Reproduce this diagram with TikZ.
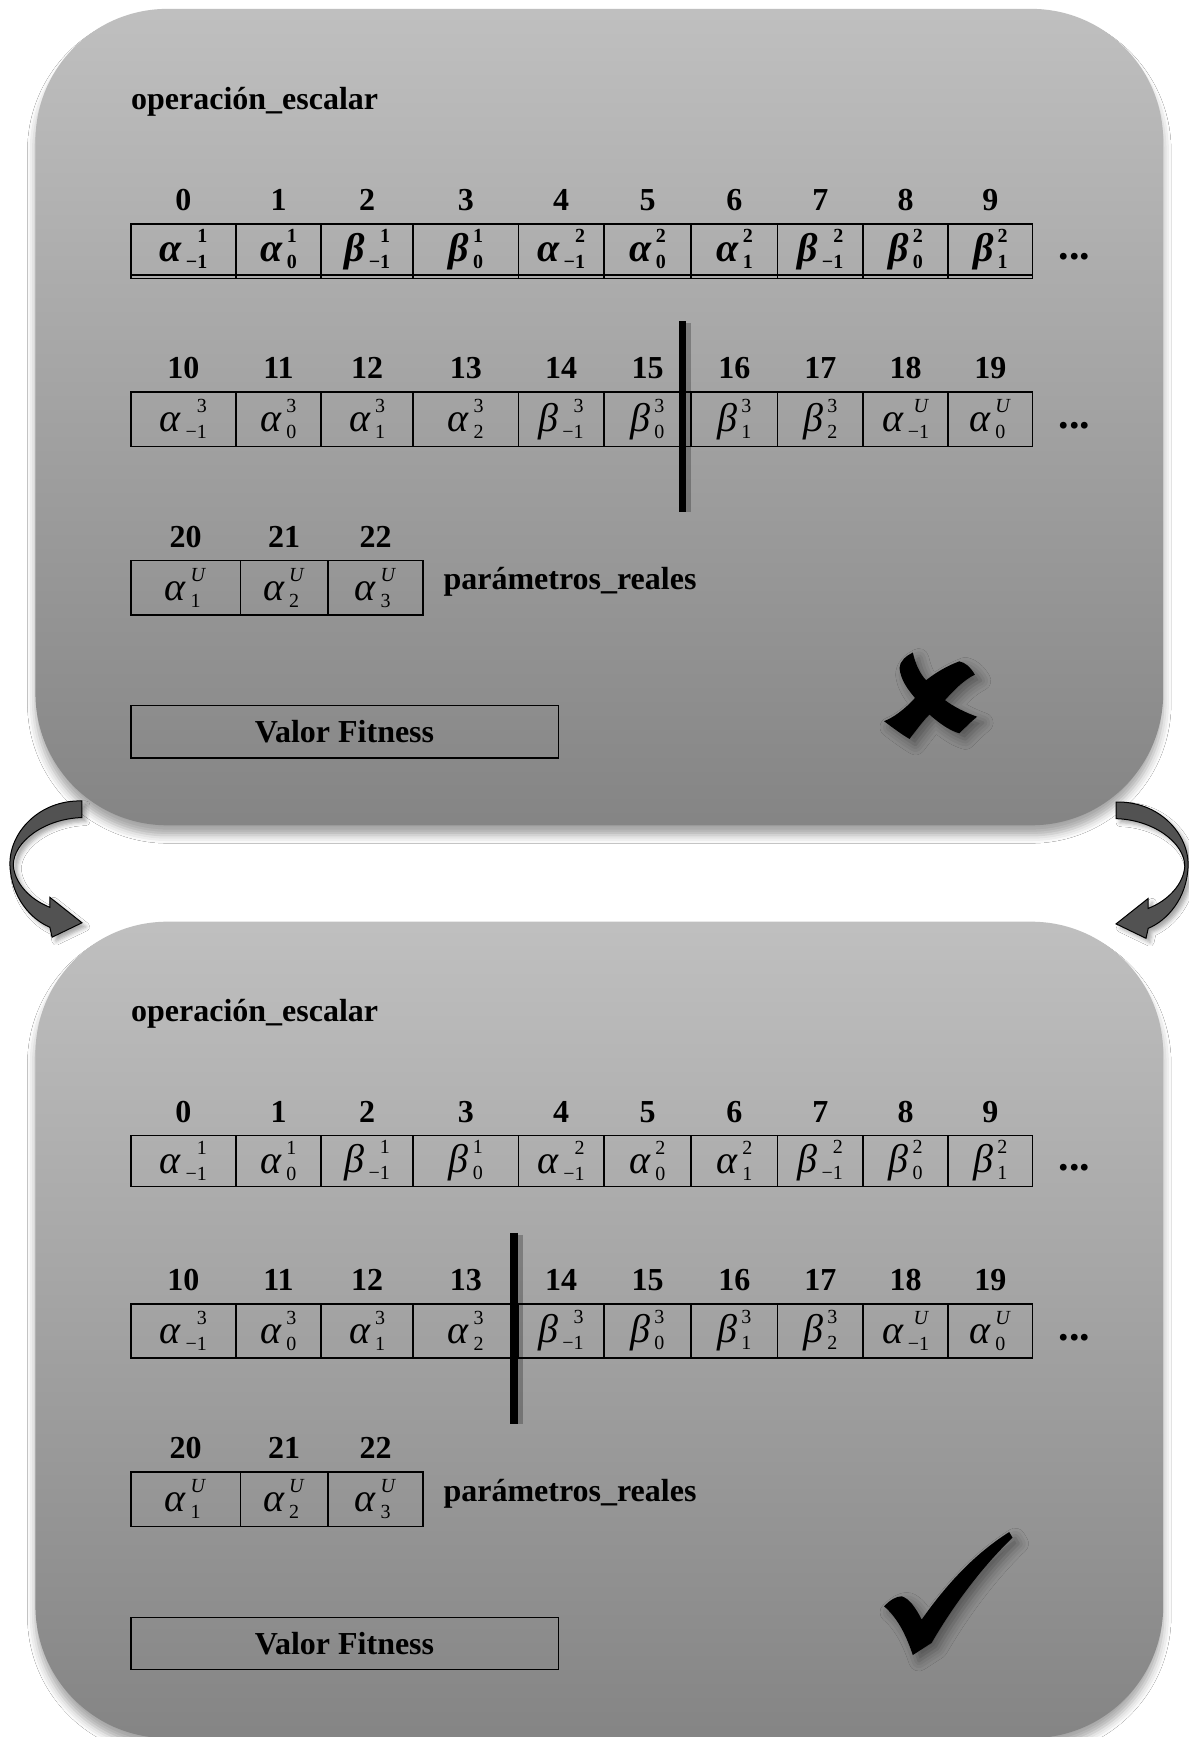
\documentclass[tikz,border=0pt]{standalone}
\usepackage{fontspec}
\setmainfont{Liberation Serif}
\usetikzlibrary{shadows.blur}
\newcommand\supsub[2]{\begingroup\fontsize{10}{10}\selectfont\setbox0\hbox{#1}\setbox2\hbox{#2}%
\ifdim\wd0>\wd2 \dimen0=\wd0 \else\dimen0=\wd2 \fi
\hbox to\dimen0{\rlap{\hbox to\dimen0{\hfil\raise9.5pt\box0}}\lower3.5pt\box2\hfil}\endgroup}
\newcommand\gs[3]{\textit{#1}\kern2pt\supsub{#2}{#3}}
\tikzset{
  panelst/.style={rounded corners=66pt, top color=black!25, bottom color=black!48,
    blur shadow={shadow xshift=0pt, shadow yshift=-5pt, shadow blur radius=4pt, shadow opacity=35}},
  cellst/.style={draw=black, line width=0.8pt, inner sep=0pt},
  numst/.style={font=\fontsize{16}{16}\selectfont\bfseries, anchor=base, inner sep=0pt},
  txtst/.style={font=\fontsize{16}{16}\selectfont\bfseries, inner sep=0pt},
  dotst/.style={font=\fontsize{21}{21}\selectfont\bfseries, inner sep=0pt, anchor=base},
  fitst/.style={draw=black, line width=0.8pt, inner sep=0pt, font=\fontsize{16}{16}\selectfont\bfseries},
  barst/.style={line width=3.9pt, black},
  barshadow/.style={line width=4pt, black, opacity=0.25},
  arrowst/.style={fill=black!68, draw=black, line width=0.5pt,
    blur shadow={shadow xshift=2pt, shadow yshift=-2pt, shadow blur radius=2pt, shadow opacity=35}},
  markst/.style={fill=black,
    blur shadow={shadow xshift=3pt, shadow yshift=-3pt, shadow blur radius=5pt, shadow opacity=40}}
}
\newcommand\cellrow[5]{%
  \foreach \i/\xa/\xb/\g/\p/\s in {#5}{%
    \node[cellst, font=\fontsize{20}{20}\selectfont#4, minimum width={(\xb-\xa)*0.554pt},
      minimum height={(#3-#2)*0.554pt}] (#1c\i) at ({(\xa+\xb)/2},{(#2+#3)/2}) {\gs{\g}{\p}{\s}};
    \node[numst] (#1n\i) at ({(\xa+\xb)/2},{#2-12}) {\i};
  }}
\newcommand\panelcontents[3]{%
  \node[txtst, anchor=base west] (#1title) at (118,99) {operación\_escalar};
  \cellrow{#1}{202}{248}{#2}{0/118/213/α/1/−1, 1/213/290/α/1/0, 2/290/373/β/1/−1, 3/373/468/β/1/0,
    4/468/545/α/2/−1, 5/545/624/α/2/0, 6/624/702/α/2/1, 7/702/779/β/2/−1, 8/779/856/β/2/0, 9/856/932/β/2/1}
  \node[dotst] (#1dotsa) at (970,234) {...};
  \cellrow{#1}{354}{403}{}{10/118/213/α/3/−1, 11/213/290/α/3/0, 12/290/373/α/3/1, 13/373/468/α/3/2,
    14/468/545/β/3/−1, 15/545/624/β/3/0, 16/624/702/β/3/1, 17/702/779/β/3/2,
    18/779/856/α/\textit{U}/−1, 19/856/932/α/\textit{U}/0}
  \node[dotst] (#1dotsb) at (970,387) {...};
  \cellrow{#1}{506}{555}{}{20/118/217/α/\textit{U}/1, 21/217/296/α/\textit{U}/2, 22/296/382/α/\textit{U}/3}
  \node[txtst, anchor=base west] (#1param) at (400,532) {parámetros\_reales};
  \node[fitst, minimum width={386*0.554pt}, minimum height={47*0.554pt}] (#1fit) at (311,660.5) {Valor Fitness};
  \coordinate (#1bartop) at (#3,290);
  \coordinate (#1barbot) at (#3,462);
  \draw[barshadow] ([xshift=2.5pt,yshift=-1pt]#1bartop) -- ([xshift=2.5pt]#1barbot);
  \draw[barst] (#1bartop) -- (#1barbot);
}
\newcommand\arrowshape{(74,723) .. controls (35,722) and (8,752) .. (9,781)
  .. controls (10,810) and (28,830) .. (45,837) -- (47,846) -- (74,833) -- (45,810) -- (45,819)
  .. controls (27,812) and (13,797) .. (12,781) .. controls (12,760) and (40,739) .. (74,738) -- cycle}
\begin{document}
\begin{tikzpicture}[x=0.554pt,y=-0.554pt]
\useasboundingbox (0,0) rectangle (1073,1568);
\fill[white] (0,0) rectangle (1073,1568);
% panels
\path[panelst] (32,8) rectangle (1050,745);
\path[panelst] (32,832) rectangle (1050,1569);
% curved arrows
\path[arrowst] \arrowshape;
\begin{scope}[xshift={1081.5*0.554pt}, yshift={-0.554pt}, xscale=-1]
\path[arrowst] \arrowshape;
\end{scope}
% top panel
\panelcontents{t}{\bfseries}{616}
\draw[line width=0.8pt] (118,251.5) -- (932,251.5);
\foreach \xx in {118,213,290,373,468,545,624,702,779,856,932}{\draw[line width=0.8pt] (\xx,248) -- (\xx,251.5);}
% bottom panel
\begin{scope}[yshift={-823*0.554pt}]
\panelcontents{b}{}{464}
\end{scope}
% X mark
\path[markst] (824,589) .. controls (818,592) and (812,597) .. (812,603)
  .. controls (813,614) and (820,623) .. (826,630) .. controls (816,641) and (806,648) .. (798,651)
  .. controls (806,657) and (814,663) .. (821,667) .. controls (828,658) and (833,651) .. (839,645)
  .. controls (847,652) and (856,659) .. (866,662) .. controls (872,656) and (877,651) .. (882,647)
  .. controls (871,643) and (861,638) .. (853,632) .. controls (862,622) and (870,614) .. (880,609)
  .. controls (876,602) and (871,598) .. (866,597) .. controls (855,601) and (845,607) .. (836,614)
  .. controls (830,608) and (826,598) .. (824,589) -- cycle;
% check mark
\path[markst] (798,1450) .. controls (804,1444) and (809,1441) .. (814,1441)
  .. controls (821,1443) and (827,1452) .. (832,1462) .. controls (858,1425) and (884,1400) .. (911,1383)
  -- (914,1388) .. controls (886,1415) and (860,1450) .. (841,1483) -- (824,1494)
  .. controls (818,1476) and (810,1460) .. (798,1450) -- cycle;
\end{tikzpicture}
\end{document}
